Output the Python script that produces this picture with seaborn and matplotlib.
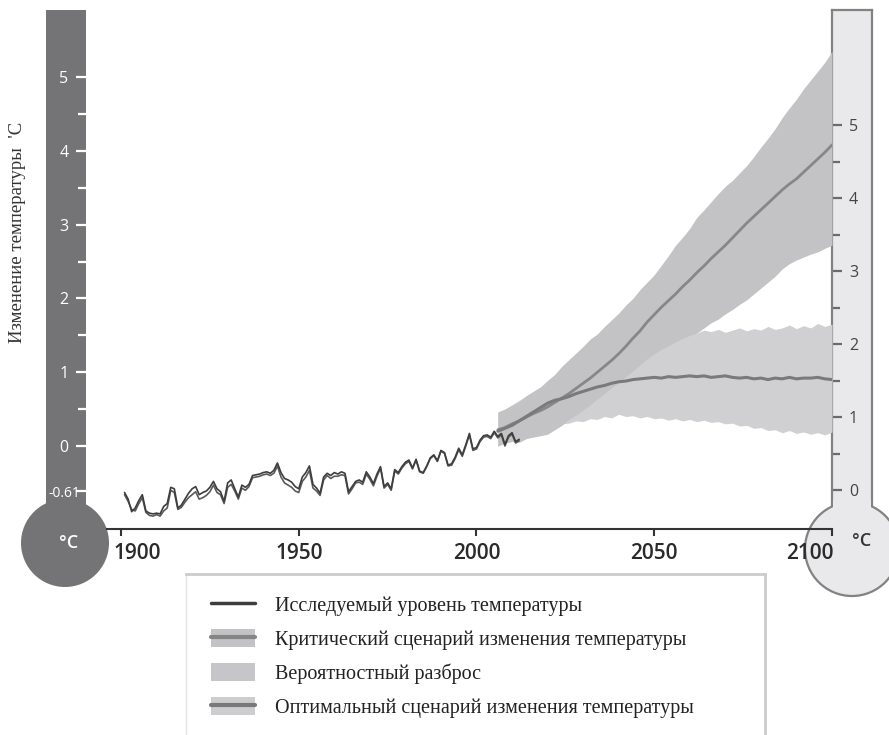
import matplotlib
matplotlib.use('Agg')
import matplotlib.pyplot as plt
import seaborn as sns
import matplotlib.transforms as mtransforms
from matplotlib.patches import Circle, Rectangle, Patch
from matplotlib.lines import Line2D

# ---------------- data ----------------
hist_years = list(range(1901, 2013))
hist_a = [-0.63, -0.72, -0.89, -0.84, -0.74, -0.66, -0.88, -0.91, -0.92, -0.91,
          -0.92, -0.82, -0.78, -0.56, -0.58, -0.84, -0.80, -0.72, -0.64, -0.58,
          -0.55, -0.66, -0.63, -0.61, -0.56, -0.48, -0.58, -0.62, -0.75, -0.50,
          -0.46, -0.58, -0.69, -0.53, -0.56, -0.52, -0.40, -0.39, -0.38, -0.36,
          -0.35, -0.37, -0.33, -0.23, -0.36, -0.44, -0.46, -0.49, -0.55, -0.58,
          -0.42, -0.36, -0.27, -0.52, -0.57, -0.64, -0.42, -0.37, -0.40, -0.36,
          -0.38, -0.35, -0.37, -0.62, -0.55, -0.48, -0.46, -0.49, -0.35, -0.42,
          -0.51, -0.38, -0.28, -0.55, -0.50, -0.58, -0.32, -0.36, -0.28, -0.22,
          -0.19, -0.30, -0.18, -0.34, -0.36, -0.27, -0.16, -0.12, -0.20, -0.06,
          -0.09, -0.26, -0.24, -0.15, -0.03, -0.12, 0.02, 0.17, -0.04, -0.02,
          0.08, 0.14, 0.15, 0.12, 0.20, 0.13, 0.17, 0.02, 0.14, 0.18,
          0.06, 0.09]
hist_b = [-0.66, -0.75, -0.86, -0.88, -0.78, -0.70, -0.90, -0.94, -0.95, -0.93,
          -0.95, -0.88, -0.84, -0.60, -0.63, -0.86, -0.83, -0.76, -0.70, -0.66,
          -0.62, -0.72, -0.70, -0.67, -0.62, -0.53, -0.63, -0.66, -0.78, -0.56,
          -0.52, -0.61, -0.72, -0.57, -0.60, -0.55, -0.43, -0.42, -0.41, -0.39,
          -0.38, -0.40, -0.37, -0.27, -0.42, -0.50, -0.53, -0.56, -0.61, -0.63,
          -0.48, -0.42, -0.33, -0.57, -0.61, -0.67, -0.46, -0.40, -0.44, -0.41,
          -0.41, -0.39, -0.40, -0.65, -0.58, -0.50, -0.49, -0.52, -0.38, -0.45,
          -0.54, -0.41, -0.30, -0.57, -0.52, -0.60, -0.34, -0.38, -0.30, -0.24,
          -0.21, -0.31, -0.19, -0.35, -0.37, -0.28, -0.17, -0.13, -0.21, -0.07,
          -0.10, -0.27, -0.26, -0.17, -0.05, -0.14, 0.00, 0.15, -0.06, -0.04,
          0.06, 0.12, 0.13, 0.10, 0.18, 0.11, 0.15, 0.00, 0.12, 0.16,
          0.04, 0.07]

proj_years = list(range(2006, 2101, 2))
crit_mean = [0.22, 0.25, 0.30, 0.34, 0.39, 0.44, 0.48, 0.53, 0.59, 0.65,
             0.71, 0.78, 0.85, 0.92, 1.00, 1.08, 1.16, 1.25, 1.35, 1.46,
             1.56, 1.68, 1.78, 1.88, 1.97, 2.06, 2.16, 2.25, 2.35, 2.44,
             2.54, 2.63, 2.72, 2.82, 2.92, 3.02, 3.11, 3.20, 3.29, 3.38,
             3.47, 3.55, 3.62, 3.71, 3.80, 3.89, 3.98, 4.08]
crit_hi = [0.46, 0.50, 0.55, 0.60, 0.68, 0.74, 0.80, 0.89, 0.97, 1.08,
           1.17, 1.26, 1.35, 1.45, 1.52, 1.62, 1.71, 1.80, 1.91, 2.00,
           2.12, 2.22, 2.32, 2.45, 2.58, 2.72, 2.83, 2.95, 3.10, 3.20,
           3.31, 3.42, 3.52, 3.60, 3.70, 3.80, 3.92, 4.05, 4.17, 4.30,
           4.45, 4.58, 4.70, 4.84, 4.96, 5.08, 5.20, 5.35]
crit_lo = [0.00, 0.04, 0.06, 0.05, 0.10, 0.12, 0.14, 0.16, 0.22, 0.28,
           0.36, 0.42, 0.49, 0.56, 0.64, 0.71, 0.79, 0.86, 0.94, 1.02,
           1.10, 1.18, 1.25, 1.31, 1.36, 1.41, 1.46, 1.50, 1.53, 1.60,
           1.67, 1.72, 1.79, 1.85, 1.92, 1.98, 2.06, 2.14, 2.22, 2.30,
           2.40, 2.47, 2.52, 2.56, 2.60, 2.63, 2.68, 2.72]
opt_mean = [0.20, 0.24, 0.28, 0.34, 0.40, 0.46, 0.52, 0.58, 0.62, 0.64,
            0.67, 0.71, 0.74, 0.77, 0.80, 0.82, 0.85, 0.87, 0.88, 0.90,
            0.91, 0.92, 0.93, 0.92, 0.94, 0.93, 0.94, 0.95, 0.94, 0.95,
            0.93, 0.94, 0.95, 0.93, 0.92, 0.93, 0.91, 0.92, 0.90, 0.92,
            0.91, 0.93, 0.91, 0.92, 0.92, 0.93, 0.91, 0.90]
opt_hi = [0.46, 0.50, 0.56, 0.62, 0.68, 0.74, 0.80, 0.86, 0.92, 0.97,
          1.02, 1.07, 1.12, 1.17, 1.21, 1.26, 1.30, 1.34, 1.37, 1.41,
          1.44, 1.47, 1.49, 1.52, 1.51, 1.53, 1.52, 1.55, 1.53, 1.57,
          1.55, 1.58, 1.54, 1.57, 1.60, 1.56, 1.59, 1.57, 1.62, 1.58,
          1.60, 1.64, 1.59, 1.63, 1.60, 1.66, 1.62, 1.65]
opt_lo = [0.00, 0.05, 0.14, 0.16, 0.14, 0.17, 0.16, 0.22, 0.28, 0.30,
          0.31, 0.34, 0.33, 0.37, 0.36, 0.40, 0.38, 0.43, 0.40, 0.41,
          0.38, 0.40, 0.37, 0.38, 0.35, 0.37, 0.34, 0.36, 0.33, 0.35,
          0.32, 0.33, 0.30, 0.31, 0.27, 0.28, 0.24, 0.25, 0.21, 0.22,
          0.18, 0.21, 0.17, 0.19, 0.16, 0.18, 0.15, 0.19]

x_ticks = [1900, 1950, 2000, 2050, 2100]
left_ticks = [-0.61, 0, 1, 2, 3, 4, 5]
left_labels = ['-0.61', '0', '1', '2', '3', '4', '5']
left_minor = [0.5, 1.5, 2.5, 3.5, 4.5]
right_ticks = [0, 1, 2, 3, 4, 5]
right_minor = [0.5, 1.5, 2.5, 3.5, 4.5]
legend_labels = ['Исследуемый уровень температуры',
                 'Критический сценарий изменения температуры',
                 'Вероятностный разброс',
                 'Оптимальный сценарий изменения температуры']
ylabel_text = "Изменение температуры  'С"
unit_text = '°C'

# ---------------- style ----------------
sns.set_theme(style='white')
plt.rcParams['font.family'] = ['Open Sans', 'DejaVu Sans']

W, H = 889, 735
fig = plt.figure(figsize=(W / 100, H / 100), dpi=100)
fig.patch.set_facecolor('white')


def px_box(x0, y0, x1, y1):
    return [x0 / W, 1 - y1 / H, (x1 - x0) / W, (y1 - y0) / H]


PPU_L = 73.8     # pixels per degree, left scale
Y0_L = 446       # pixel row of 0 on left scale
PPU_R = 73.0
Y0_R = 490


def lval(py):
    return (Y0_L - py) / PPU_L


def rval(py):
    return (Y0_R - py) / PPU_R


TUBE_DARK = '#747476'
TUBE_LIGHT = '#e9e9eb'
EDGE = '#828282'

# ---------------- left thermometer ----------------
axL = fig.add_axes(px_box(46, 10, 86, 505))
axL.set_zorder(1)
axL.set_facecolor(TUBE_DARK)
for s in axL.spines.values():
    s.set_visible(False)
axL.set_xticks([])
axL.set_ylim(lval(505), lval(10))
axL.set_yticks(left_ticks)
axL.set_yticklabels(left_labels)
axL.set_yticks(left_minor, minor=True)
axL.tick_params(axis='y', which='both', direction='in', left=False, right=True,
                labelleft=True, labelright=False, colors='white', width=1.6)
axL.tick_params(axis='y', which='major', length=7, pad=-13, labelsize=11.5)
axL.tick_params(axis='y', which='minor', length=6)
for lbl in axL.get_yticklabels():
    lbl.set_ha('center')
    if lbl.get_text() == '-0.61':
        lbl.set_fontsize(10)

# ---------------- right thermometer ----------------
axR = fig.add_axes(px_box(832, 10, 872, 505))
axR.set_zorder(1)
axR.set_facecolor(TUBE_LIGHT)
for k, s in axR.spines.items():
    if k == 'bottom':
        s.set_visible(False)
    else:
        s.set_color(EDGE)
        s.set_linewidth(1.6)
axR.set_xticks([])
axR.set_ylim(rval(505), rval(10))
axR.set_yticks(right_ticks)
axR.set_yticklabels([str(t) for t in right_ticks])
axR.set_yticks(right_minor, minor=True)
axR.tick_params(axis='y', which='both', direction='in', left=True, right=False,
                labelleft=True, labelright=False, color='#6a6a6a', width=1.6)
axR.tick_params(axis='y', which='major', length=7, pad=-12.2, labelsize=11.5,
                labelcolor='#444444')
axR.tick_params(axis='y', which='minor', length=6)
for lbl in axR.get_yticklabels():
    lbl.set_ha('left')

# ---------------- overlay for bulbs ----------------
ov = fig.add_axes([0, 0, 1, 1])
ov.set_zorder(2)
ov.set_xlim(0, W)
ov.set_ylim(H, 0)
ov.axis('off')
ov.patch.set_alpha(0)
ov.add_patch(Circle((65, 543), 44, fc=TUBE_DARK, ec='none'))
ov.add_patch(Circle((852, 549), 47, fc=TUBE_LIGHT, ec=EDGE, lw=1.6))
ov.add_patch(Rectangle((833.2, 499), 37.6, 13, fc=TUBE_LIGHT, ec='none'))
ov.text(69, 543, unit_text, color='white', fontsize=13, fontweight='semibold',
        ha='center', va='center')
ov.text(862, 541, unit_text, color='#333333', fontsize=13, fontweight='semibold',
        ha='center', va='center')

# ---------------- main chart ----------------
ax = fig.add_axes(px_box(107, 10, 832, 529))
ax.set_zorder(3)
ax.patch.set_alpha(0)
ax.set_xlim(1900 - 14 / 3.555, 2100)
ax.set_ylim(lval(529), lval(10))

ax.fill_between(proj_years, opt_lo, opt_hi, color='#d0d0d2', lw=0, zorder=1)
ax.fill_between(proj_years, crit_lo, crit_hi, color='#c3c3c5', lw=0, zorder=2)
sns.lineplot(x=proj_years, y=crit_mean, ax=ax, color='#878787', lw=2.0, zorder=3)
sns.lineplot(x=proj_years, y=opt_mean, ax=ax, color='#7a7a7a', lw=2.2, zorder=4)
sns.lineplot(x=hist_years, y=hist_b, ax=ax, color='#5a5a5a', lw=1.2, zorder=5)
sns.lineplot(x=hist_years, y=hist_a, ax=ax, color='#3e3e3e', lw=1.2, zorder=6)

for k in ['left', 'right', 'top']:
    ax.spines[k].set_visible(False)
ax.spines['bottom'].set_color('#333333')
ax.spines['bottom'].set_linewidth(1.5)
ax.set_yticks([])
ax.set_xlabel('')
ax.set_ylabel('')
ax.set_xticks(x_ticks)
ax.tick_params(axis='x', bottom=True, direction='out', length=5, width=1.5,
               color='#333333', pad=5)
ax.set_xticklabels([str(t) for t in x_ticks], fontsize=15, fontweight='semibold',
                   color='#2a2a2a')
xl = ax.get_xticklabels()
xl[0].set_transform(xl[0].get_transform() +
                    mtransforms.ScaledTranslation(16 / 100, 0, fig.dpi_scale_trans))
xl[-1].set_ha('right')
xl[-1].set_transform(xl[-1].get_transform() +
                     mtransforms.ScaledTranslation(2 / 100, 0, fig.dpi_scale_trans))

fig.text(18 / W, 1 - 232 / H, ylabel_text, rotation=90, ha='center', va='center',
         fontsize=13.5, family=['Liberation Serif', 'DejaVu Serif'], color='#333333')

# ---------------- legend box ----------------
axLeg = fig.add_axes(px_box(186, 574, 765, 735))
axLeg.set_zorder(4)
axLeg.set_facecolor('white')
axLeg.set_xticks([])
axLeg.set_yticks([])
axLeg.spines['bottom'].set_visible(False)
axLeg.spines['top'].set_color('#cccccc')
axLeg.spines['top'].set_linewidth(2)
axLeg.spines['right'].set_color('#cccccc')
axLeg.spines['right'].set_linewidth(2)
axLeg.spines['left'].set_color('#e2e2e2')
axLeg.spines['left'].set_linewidth(1)

handles = [
    Line2D([], [], color='#3c3c3c', lw=2.5),
    (Patch(fc='#c3c3c5', ec='none'), Line2D([], [], color='#858585', lw=3)),
    Patch(fc='#c6c6c8', ec='none'),
    (Patch(fc='#cdcdcf', ec='none'), Line2D([], [], color='#797979', lw=3)),
]
leg = axLeg.legend(handles, legend_labels, loc='upper left',
                   bbox_to_anchor=(25 / 579, 1 - 21 / 161), frameon=False,
                   borderpad=0, borderaxespad=0,
                   prop={'family': ['Liberation Serif', 'DejaVu Serif'], 'size': 14.5},
                   handlelength=2.2, handleheight=1.0, handletextpad=1.0,
                   labelspacing=0.65, labelcolor='#222222')

fig.savefig('out.png', dpi=100, facecolor='white')
